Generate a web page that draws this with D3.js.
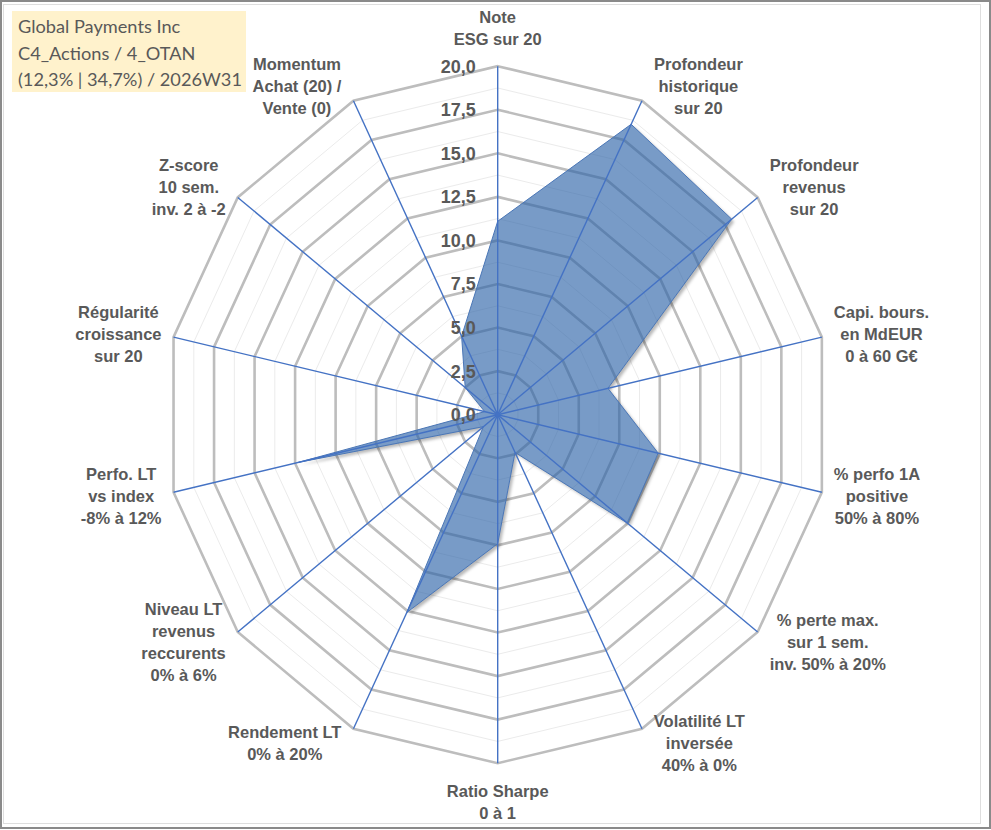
<!DOCTYPE html>
<html>
<head>
<meta charset="utf-8">
<script src="https://cdn.jsdelivr.net/npm/d3@7"></script>
<style>
  html, body { margin: 0; padding: 0; background: #fff; }
  svg { display: block; }
</style>
</head>
<body>
<svg id="chart" width="991" height="830"></svg>
<script>
// ---------- data ----------
const categories = [
  "Note\nESG sur 20",
  "Profondeur\nhistorique\nsur 20",
  "Profondeur\nrevenus\nsur 20",
  "Capi. bours.\nen MdEUR\n0 à 60 G€",
  "% perfo 1A\npositive\n50% à 80%",
  "% perte max.\nsur 1 sem.\ninv. 50% à 20%",
  "Volatilité LT\ninversée\n40% à 0%",
  "Ratio Sharpe\n0 à 1",
  "Rendement LT\n0% à 20%",
  "Niveau LT\nrevenus\nreccurents\n0% à 6%",
  "Perfo. LT\nvs index\n-8% à 12%",
  "Régularité\ncroissance\nsur 20",
  "Z-score\n10 sem.\ninv. 2 à -2",
  "Momentum\nAchat (20) /\nVente (0)"
];
const values = [11.1, 18.5, 18.0, 6.8, 9.9, 10.0, 2.4, 7.4, 12.6, 1.1, 12.3, 0.8, 2.5, 5.0];
const tickValues = [0, 2.5, 5, 7.5, 10, 12.5, 15, 17.5, 20];
const minorValues = [1.25, 3.75, 6.25, 8.75, 11.25, 13.75, 16.25, 18.75];
const titleLines = ["Global Payments Inc", "C4_Actions / 4_OTAN", "(12,3% | 34,7%) / 2026W31"];

// ---------- layout ----------
const W = 991, H = 830;
const cx = 497.7, cy = 414.7;
const rx = 332.5, ry = 348.5;
const n = categories.length;
const textColor = "#595959";

const svg = d3.select("#chart");
const r = d3.scaleLinear().domain([0, 20]).range([0, 1]);
const ang = d3.scaleLinear().domain([0, n]).range([0, 2 * Math.PI]);
const px = (i, v) => cx + r(v) * rx * Math.sin(ang(i));
const py = (i, v) => cy - r(v) * ry * Math.cos(ang(i));
const fmt = v => d3.format(".1f")(v).replace(".", ",");

// frame
svg.append("rect").attr("x", 1).attr("y", 1).attr("width", W - 2).attr("height", H - 3)
  .attr("fill", "#fff").attr("stroke", "#8a8a8a").attr("stroke-width", 2);
svg.append("rect").attr("x", 3.5).attr("y", 4.5).attr("width", 977).attr("height", 819)
  .attr("fill", "none").attr("stroke", "#dedede").attr("stroke-width", 1);

const ringLine = d3.line().curve(d3.curveLinearClosed);
const ringPts = v => d3.range(n).map(i => [px(i, v), py(i, v)]);

// minor rings
svg.append("g").selectAll("path").data(minorValues).join("path")
  .attr("d", v => ringLine(ringPts(v)))
  .attr("fill", "none").attr("stroke", "#ebebeb").attr("stroke-width", 1);

// major rings
svg.append("g").selectAll("path").data(tickValues.filter(v => v > 0)).join("path")
  .attr("d", v => ringLine(ringPts(v)))
  .attr("fill", "none").attr("stroke", "#bdbdbd").attr("stroke-width", 2.6)
  .attr("stroke-linejoin", "miter");

// data polygon with outside-only shadow
const area = d3.line()
  .x((d, i) => px(i, d))
  .y((d, i) => py(i, d))
  .curve(d3.curveLinearClosed);
const dPath = area(values);

const defs = svg.append("defs");
const blur = defs.append("filter").attr("id", "blur").attr("x", "-10%").attr("y", "-10%")
  .attr("width", "120%").attr("height", "120%");
blur.append("feGaussianBlur").attr("stdDeviation", 1.8);
const mask = defs.append("mask").attr("id", "outside").attr("maskUnits", "userSpaceOnUse")
  .attr("x", 0).attr("y", 0).attr("width", W).attr("height", H);
mask.append("rect").attr("width", W).attr("height", H).attr("fill", "#fff");
mask.append("path").attr("d", dPath).attr("fill", "#000");

svg.append("g").attr("mask", "url(#outside)")
  .append("path").attr("d", dPath)
  .attr("transform", "translate(2.5,2.5)")
  .attr("fill", "#000").attr("fill-opacity", 0.28)
  .attr("filter", "url(#blur)");

svg.append("path").datum(values)
  .attr("d", area)
  .attr("fill", "rgb(44,98,168)").attr("fill-opacity", 0.64)
  .attr("stroke", "#4a76b6").attr("stroke-width", 1);

// spokes
svg.append("g").selectAll("line").data(d3.range(n)).join("line")
  .attr("x1", cx).attr("y1", cy)
  .attr("x2", i => px(i, 20)).attr("y2", i => py(i, 20))
  .attr("stroke", "#4472C4").attr("stroke-width", 1.4);
svg.append("circle").attr("cx", cx).attr("cy", cy).attr("r", 2.5).attr("fill", "#4472C4");

// tick labels
svg.append("g").selectAll("text").data(tickValues).join("text")
  .attr("x", cx - 22)
  .attr("y", v => py(0, v))
  .attr("dy", "0.36em")
  .attr("text-anchor", "end")
  .attr("font-family", "'Liberation Sans', Arial, sans-serif")
  .attr("font-weight", "bold")
  .attr("font-size", 18)
  .attr("fill", textColor)
  .text(fmt);

// category labels
const lh = 22;
const labG = svg.append("g")
  .attr("font-family", "'Liberation Sans', Arial, sans-serif")
  .attr("font-weight", "bold")
  .attr("font-size", 16.5)
  .attr("fill", textColor)
  .attr("text-anchor", "middle");
categories.forEach((c, i) => {
  const lines = c.split("\n");
  const t = labG.append("text");
  lines.forEach(l => t.append("tspan").text(l));
  const w = d3.max(t.selectAll("tspan").nodes(), nd => nd.getComputedTextLength());
  const s = Math.sin(ang(i)), co = -Math.cos(ang(i));
  const ox = px(i, 20), oy = py(i, 20);
  let xc, yc;
  if (Math.abs(s) < 0.1) {
    xc = ox;
    yc = oy + Math.sign(co) * (lines.length * lh / 2 + 16.5);
  } else {
    xc = ox + Math.sign(s) * (w / 2 + 12);
    yc = oy + co * 16;
  }
  t.selectAll("tspan")
    .attr("x", xc)
    .attr("y", (d, k) => yc + (k - (lines.length - 1) / 2) * lh)
    .attr("dy", "0.36em");
});

// title box
svg.append("rect").attr("x", 12).attr("y", 11).attr("width", 234).attr("height", 81)
  .attr("fill", "#FFF2CC");
svg.append("g").selectAll("text").data(titleLines).join("text")
  .attr("x", 18)
  .attr("y", (d, k) => 33 + k * 26.5)
  .attr("font-family", "Lato, 'Open Sans', sans-serif")
  .attr("font-size", 18.2)
  .attr("fill", textColor)
  .text(d => d);
</script>
</body>
</html>
